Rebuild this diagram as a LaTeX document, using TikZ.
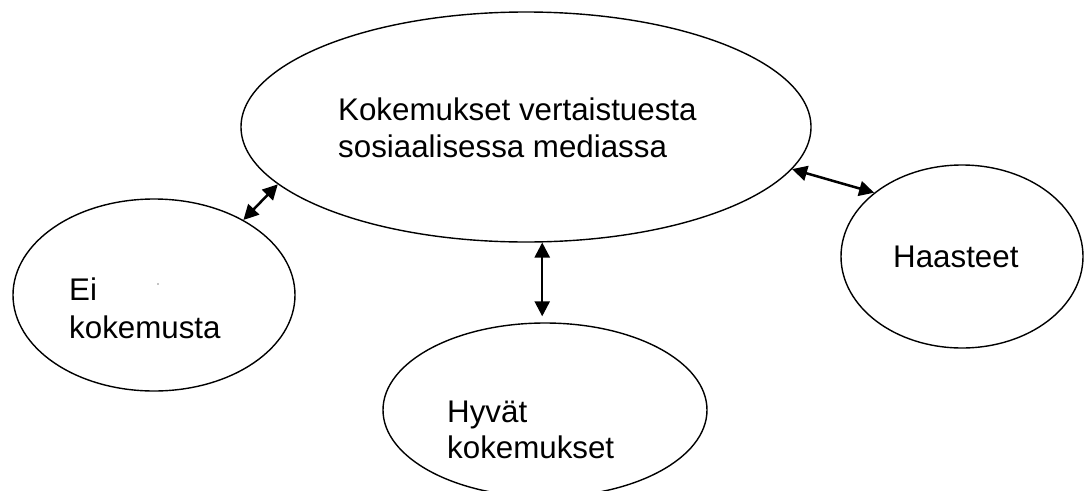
\documentclass[tikz,border=0pt]{standalone}
\usepackage{fontspec}
\setmainfont{Liberation Sans}
\usepackage{tikz}
\usetikzlibrary{shapes.geometric,arrows.meta}

\begin{document}
\begin{tikzpicture}[x=1pt,y=-1pt,
	bubble/.style={shape=ellipse,draw=black,line width=1.4pt,inner sep=0pt},
	label text/.style={anchor=base west,inner sep=0pt,font=\fontsize{31.3}{37}\selectfont},
	link/.style={{Triangle[length=15pt,width=15pt]}-{Triangle[length=15pt,width=15pt]},line width=2.5pt}]
	\useasboundingbox (0,0) rectangle (1084,490);

	\node[bubble,minimum width=570pt,minimum height=230pt] (main) at (526,127)   {};
	\node[bubble,minimum width=282pt,minimum height=192pt] (ei) at (154,295)     {};
	\node[bubble,minimum width=324pt,minimum height=174pt] (hyvat) at (545,410)  {};
	\node[bubble,minimum width=242pt,minimum height=183pt] (haasteet) at (962,256.5) {};

	\node[label text] (main1) at (338,120)    {Kokemukset vertaistuesta};
	\node[label text] (main2) at (338,157)    {sosiaalisessa mediassa};
	\node[label text] (ei1) at (69,300)       {Ei};
	\node[label text] (ei2) at (69,338)       {kokemusta};
	\node[label text] (hyvat1) at (447,422)   {Hyvät};
	\node[label text] (hyvat2) at (447,458)   {kokemukset};
	\node[label text] (haasteet1) at (893,267) {Haasteet};
	\fill (158,284) circle (0.7);

	\path[link] (main.193.7) edge (ei.40.8);
	\path[link,shorten >=6pt] (main.278.4) edge (main.278.4 |- hyvat.north);
	\path[link] (main.351.75) edge (haasteet.144.5);
\end{tikzpicture}
\end{document}
